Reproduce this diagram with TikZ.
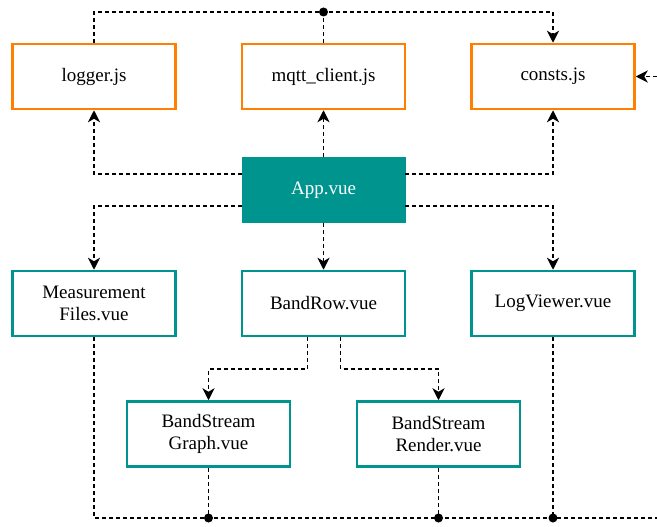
\documentclass[tikz,border=0pt]{standalone}
\usepackage{fontspec}
\setmainfont{Liberation Serif}
\usetikzlibrary{positioning,arrows.meta}
\definecolor{libcolor}{HTML}{FF8000}
\definecolor{vuecolor}{HTML}{00948F}
\begin{document}
\begin{tikzpicture}[
        font=\fontsize{19}{22}\selectfont,
        node distance=47pt and 64pt,
        box/.style={draw, line width=2.5pt, align=center, minimum width=163pt, minimum height=65pt, inner sep=2pt},
        libbox/.style={box, draw=libcolor},
        vuebox/.style={box, draw=vuecolor},
        appbox/.style={box, draw=vuecolor, fill=vuecolor, text=white, line width=0.5pt},
        dep/.style={line width=1.6pt, dash pattern=on 4pt off 3pt},
        line/.style={dep, -{Stealth[length=12pt, width=12pt, inset=3.5pt]}}
    ]
        \useasboundingbox (0,0) rectangle (657pt,-527pt);
        \node[libbox] (logger) at (94pt,-76.5pt) {logger.js};
        \node[libbox, right=of logger] (mqtt) {mqtt\_client.js};
        \node[libbox, right=of mqtt] (consts) {consts.js};
        \node[appbox, below=of mqtt] (app) {App.vue};
        \node[vuebox, below=of app] (bandrow) {BandRow.vue};
        \node[vuebox, left=of bandrow] (files) {Measurement\\Files.vue};
        \node[vuebox, right=of bandrow] (logview) {LogViewer.vue};
        \node[vuebox, below=63pt of bandrow, xshift=-115pt] (graph) {BandStream\\Graph.vue};
        \node[vuebox, below=63pt of bandrow, xshift=115pt] (render) {BandStream\\Render.vue};

        \coordinate (topdot) at (mqtt.north |- 0,-12pt);
        \coordinate (busend) at (657pt,-518pt);
        \coordinate (gdot) at (graph.south |- busend);
        \coordinate (rdot) at (render.south |- busend);
        \coordinate (ldot) at (logview.south |- busend);
        \coordinate (loopin) at (consts.east -| busend);

        \draw[line] (logger.north) |- (topdot) -| (consts.north);
        \draw[dep] (mqtt.north) -- (topdot);
        \draw[line] ([yshift=16pt]app.west) -| (logger.south);
        \draw[line] (app.north) -- (mqtt.south);
        \draw[line] ([yshift=16pt]app.east) -| (consts.south);
        \draw[line] ([yshift=-16pt]app.west) -| (files.north);
        \draw[line] (app.south) -- (bandrow.north);
        \draw[line] ([yshift=-16pt]app.east) -| (logview.north);
        \draw[line] ([xshift=-16pt]bandrow.south) -- ++(0,-32pt) -| (graph.north);
        \draw[line] ([xshift=17pt]bandrow.south) -- ++(0,-32pt) -| (render.north);
        \draw[dep] (files.south) |- (busend);
        \draw[dep] (graph.south) -- (gdot);
        \draw[dep] (render.south) -- (rdot);
        \draw[dep] (logview.south) -- (ldot);
        \draw[line] (loopin) -- (consts.east);
        \foreach \d in {topdot, gdot, rdot, ldot}
            \fill (\d) circle (4.5pt);
    \end{tikzpicture}
\end{document}
